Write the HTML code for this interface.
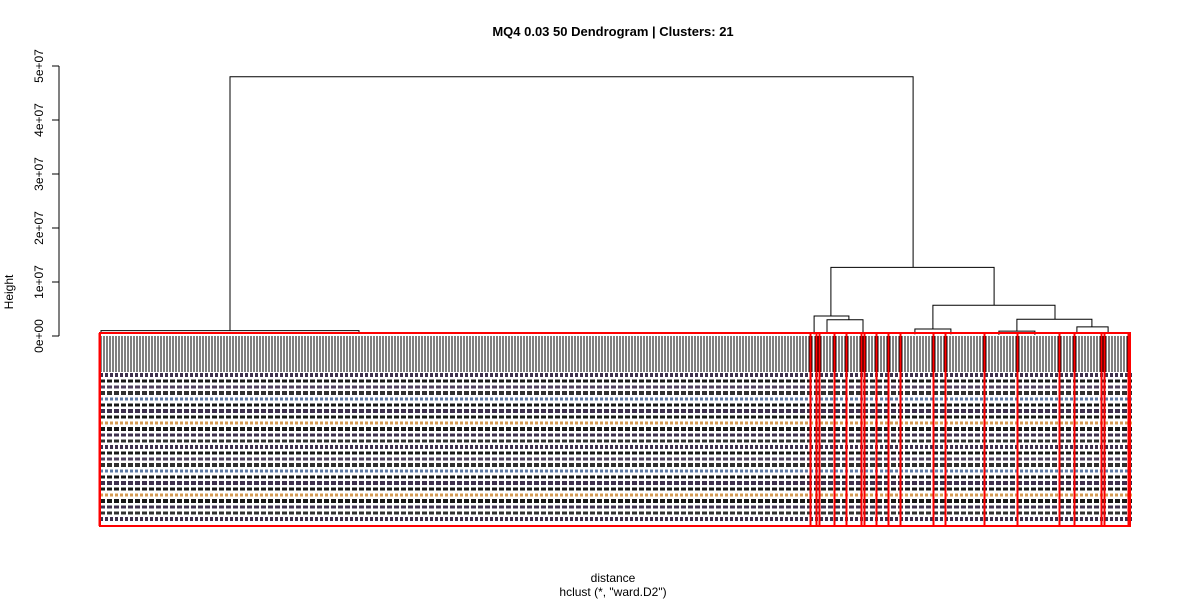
<!DOCTYPE html>
<html><head><meta charset="utf-8"><style>
body{margin:0;background:#fff;}
svg{display:block;font-family:"Liberation Sans",sans-serif;}
</style></head><body>
<svg id="c" width="1200" height="600">
<text x="613" y="36" text-anchor="middle" font-weight="bold" font-size="13">MQ4 0.03 50 Dendrogram | Clusters: 21</text>
<text x="613" y="582" text-anchor="middle" font-size="12">distance</text>
<text x="613" y="596" text-anchor="middle" font-size="12">hclust (*, "ward.D2")</text>
<text transform="translate(13,292) rotate(-90)" text-anchor="middle" font-size="12">Height</text>
<g id="axis"></g>
<g id="labels"></g>
<g id="tree"></g>
<g id="rects"></g>
</svg>
<script>
const yTicks=[0,1e7,2e7,3e7,4e7,5e7];
const yTickLabels=["0e+00","1e+07","2e+07","3e+07","4e+07","5e+07"];
const nodeLeft=[43,0,243.3,237.7,242,277.3,271.3,305.3,299.3,325.3];
const nodeRight=[270.7,86,297.7,249.3,254,318,283.3,330.3,311.3,335.7];
const nodeHeight=[4.8e7,0.1e7,1.27e7,0.37e7,0.3e7,0.57e7,0.13e7,0.31e7,0.09e7,0.17e7];
const childHeightL=[0.1e7,0.05e7,0.37e7,0.03e7,0.05e7,0.13e7,0.03e7,0.09e7,0.02e7,0.05e7];
const childHeightR=[1.27e7,0.05e7,0.57e7,0.3e7,0.05e7,0.31e7,0.03e7,0.17e7,0.02e7,0.05e7];
const clusterBreaks=[0,237,239,240,245,249,254,254,255,259,263,267,278,282,295,306,320,325,334,334,335,343];
const nLeaves=344;
const ns="http://www.w3.org/2000/svg";
const yS=v=>336-v/1e7*54;
const xS=i=>101+i*3;
function mk(t,a,p){const e=document.createElementNS(ns,t);for(const k in a)e.setAttribute(k,a[k]);p.appendChild(e);return e;}
const ax=document.getElementById('axis');
let l=mk('line',{x1:59,x2:59,y1:yS(5e7),y2:yS(0),stroke:'#000'},ax);

yTicks.forEach((v,i)=>{
 let t=mk('line',{x1:52,x2:59,y1:yS(v),y2:yS(v),stroke:'#000'},ax);
 
 let tx=mk('text',{transform:`translate(43,${yS(v)}) rotate(-90)`,'text-anchor':'middle','font-size':'12'},ax);
 tx.textContent=yTickLabels[i];
 
});
const tr=document.getElementById('tree');
let d='';
for(let i=0;i<nLeaves;i++){d+=`M${xS(i)} 336V372`;}
d+=`M${xS(0)} ${yS(0.05e7)}H${xS(nLeaves-1)}`;
nodeLeft.forEach((a,i)=>{
 const b=nodeRight[i],h=yS(nodeHeight[i]);
 d+=`M${xS(a)} ${yS(childHeightL[i])}V${h}H${xS(b)}V${yS(childHeightR[i])}`;
});
let p=mk('path',{d:d,stroke:'#000','stroke-width':1,fill:'none'},tr);

const lb=document.getElementById('labels');
const cols=['#2a1a3a','#000','#3a2a4a','#1a1a1a','#4a6a9a','#000','#2a1a3a','#000','#d09040','#000','#2a1a3a','#1a1a1a'];
for(let r=0;r<25;r++){
 const y=375+r*6;
 let s=mk('line',{x1:100,x2:1132,y1:y,y2:y,stroke:cols[r%cols.length],'stroke-width':r%3==0?4:3,'stroke-dasharray':r%4==0?'3 2':'5 2',opacity:0.9},lb);
 
}
const rc=document.getElementById('rects');
let o=mk('rect',{x:100,y:333,width:1030,height:193,fill:'none',stroke:'red','stroke-width':2},rc);

clusterBreaks.forEach(b=>{
 let v=mk('line',{x1:xS(b)-1.5,x2:xS(b)-1.5,y1:333,y2:526,stroke:'red','stroke-width':2},rc);
 
});
</script>
</body></html>
